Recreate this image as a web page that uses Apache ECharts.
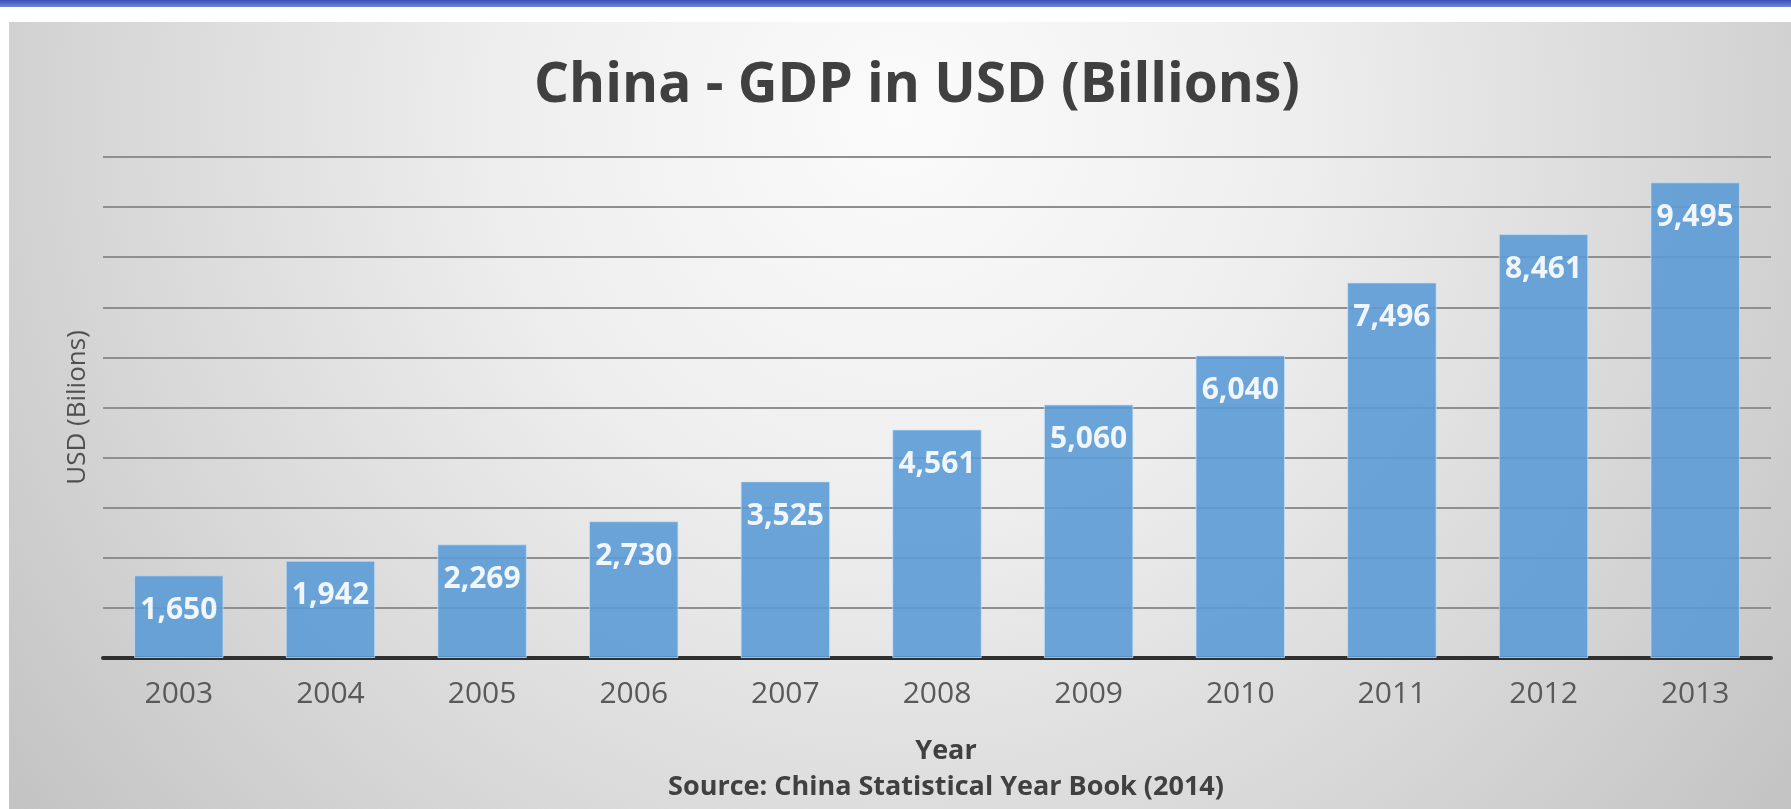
<!DOCTYPE html>
<html>
<head>
<meta charset="utf-8">
<title>China - GDP in USD (Billions)</title>
<script src="https://cdn.jsdelivr.net/npm/echarts@6/dist/echarts.min.js"></script>
<style>
  html, body { margin: 0; padding: 0; background: #ffffff; }
  #chart { width: 1791px; height: 809px; }
</style>
</head>
<body>
<div id="chart"></div>
<script>
const years = ['2003', '2004', '2005', '2006', '2007', '2008', '2009', '2010', '2011', '2012', '2013']
const gdp = [1650, 1942, 2269, 2730, 3525, 4561, 5060, 6040, 7496, 8461, 9495]

const chartTitle = 'China - GDP in USD (Billions)'
const yName = 'USD (Bilions)'
const xName = 'Year'
const sourceNote = 'Source: China Statistical Year Book (2014)'

const chart = echarts.init(document.getElementById('chart'))

const option = {
  backgroundColor: '#ffffff',
  textStyle: { fontFamily: 'Open Sans' },
  graphic: [
    {
      type: 'rect',
      z: -100,
      silent: true,
      shape: { x: 0, y: 0, width: 1791, height: 7 },
      style: {
        fill: new echarts.graphic.LinearGradient(0, 0, 0, 1, [
          { offset: 0, color: '#3a4fb3' },
          { offset: 1, color: '#6f86e2' }
        ])
      }
    },
    {
      type: 'rect',
      z: -100,
      silent: true,
      shape: { x: 9, y: 22, width: 1782, height: 787 },
      style: {
        fill: new echarts.graphic.RadialGradient(0.5, 0.12, 1.45, [
          { offset: 0, color: '#fbfbfb' },
          { offset: 0.35, color: '#eeeeee' },
          { offset: 0.7, color: '#d7d7d7' },
          { offset: 1, color: '#c2c2c2' }
        ])
      }
    }
  ],
  title: [
    {
      text: chartTitle,
      left: 912,
      top: 54,
      textAlign: 'center',
      textStyle: { fontSize: 55, fontWeight: 'bold', color: '#404040', fontFamily: 'Open Sans' }
    },
    {
      text: xName,
      left: 941,
      top: 733,
      textAlign: 'center',
      textStyle: { fontSize: 27, fontWeight: 'bold', color: '#404040', fontFamily: 'Open Sans' }
    },
    {
      text: sourceNote,
      left: 941,
      top: 769,
      textAlign: 'center',
      textStyle: { fontSize: 27, fontWeight: 'bold', color: '#404040', fontFamily: 'Open Sans' }
    }
  ],
  grid: { left: 103, right: 20, top: 157, bottom: 151 },
  xAxis: {
    type: 'category',
    data: years,
    axisTick: { show: false },
    axisLine: { lineStyle: { color: '#2f2f2f', width: 4 } },
    axisLabel: { color: '#595959', fontSize: 30, margin: 21, fontFamily: 'Open Sans' }
  },
  yAxis: {
    type: 'value',
    min: 0,
    max: 10000,
    interval: 1000,
    name: yName,
    nameLocation: 'middle',
    nameGap: 12,
    nameTextStyle: { color: '#505050', fontSize: 26, fontFamily: 'Open Sans' },
    axisLabel: { show: false },
    axisLine: { show: false },
    axisTick: { show: false },
    splitLine: { lineStyle: { color: '#8f8f8f', width: 2 } }
  },
  series: [
    {
      type: 'bar',
      data: gdp,
      barCategoryGap: '41%',
      itemStyle: {
        color: '#5b9bd5',
        opacity: 0.9,
        borderColor: 'rgba(200,225,248,0.8)',
        borderWidth: 1
      },
      label: {
        show: true,
        position: 'insideTop',
        distance: 20,
        color: '#ffffff',
        fontSize: 30,
        fontWeight: 'bold',
        fontFamily: 'Open Sans',
        formatter: (p) => p.value.toLocaleString('en-US')
      }
    }
  ]
}

chart.setOption(option)
window.addEventListener('resize', () => chart.resize())
</script>
</body>
</html>
